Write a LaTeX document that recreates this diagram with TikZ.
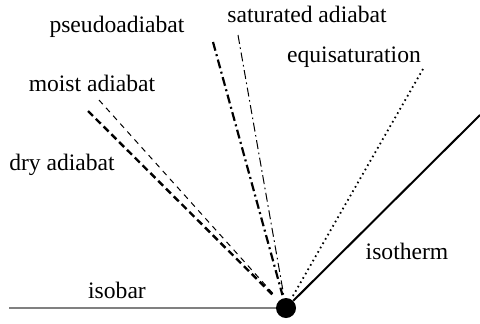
\documentclass[tikz,border=0pt]{standalone}
\usepackage{fontspec}
\setmainfont{Liberation Serif}

\tikzset{
  lbl/.style={anchor=base,font=\fontsize{11.8}{14}\selectfont},
  dryline/.style={line width=1.2pt,dash pattern=on 3.5pt off 2pt},
  moistline/.style={line width=0.5pt,dash pattern=on 2.8pt off 2.5pt},
  pseudoline/.style={line width=1.1pt,dash pattern=on 4.5pt off 1.8pt on 1pt off 1.8pt},
  satline/.style={line width=0.5pt,dash pattern=on 4.5pt off 1.8pt on 0.8pt off 1.8pt},
}

\begin{document}
\begin{tikzpicture}[x=0.5pt,y=-0.5pt]
  \useasboundingbox (0,0) rectangle (480,323);
  \node[circle,fill=black,inner sep=0pt,minimum size=10pt] (p) at (286,308) {};
  % line ends
  \coordinate (b0) at (9,308);
  \coordinate (t0) at (480,115);
  \coordinate (d0) at (88,111);
  \coordinate (m0) at (99,100);
  \coordinate (ps0) at (213,42);
  \coordinate (s0) at (238,35);
  \coordinate (e0) at (423,69);
  % curves
  \draw[gray,line width=0.8pt] (b0) -- (p);
  \draw[line width=1pt] (p) -- (t0);
  \draw[dryline,shorten >=2.5pt] (d0) -- (p);
  \draw[moistline,shorten >=2.5pt] (m0) -- (p);
  \draw[pseudoline,shorten >=1.5pt] (ps0) -- (p);
  \draw[satline,shorten >=1.5pt] (s0) -- (p);
  \draw[line width=0.9pt,dash pattern=on 0.8pt off 1.7pt,shorten >=1.5pt] (e0) -- (p);
  % labels
  \node[lbl] (lps) at (117,32) {pseudoadiabat};
  \node[lbl] (lsa) at (307,22) {saturated adiabat};
  \node[lbl] (leq) at (354,62) {equisaturation};
  \node[lbl] (lmo) at (92,91) {moist adiabat};
  \node[lbl] (ldr) at (62,170) {dry adiabat};
  \node[lbl] (lit) at (407,259) {isotherm};
  \node[lbl] (lib) at (117,298) {isobar};
\end{tikzpicture}
\end{document}
